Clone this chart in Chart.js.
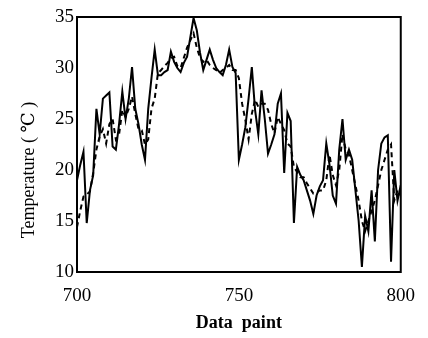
<!DOCTYPE html>
<html>
<head>
<meta charset="utf-8">
<script src="https://cdn.jsdelivr.net/npm/chart.js@4"></script>
<style>
html,body{margin:0;padding:0;background:#fff;}
#wrap{width:428px;height:338px;}
</style>
</head>
<body>
<div id="wrap"><canvas id="c" width="428" height="338"></canvas></div>
<script>
const dataPoints = [700,701,702,703,704,705,706,707,708,709,710,711,712,713,714,715,716,717,718,719,720,721,722,723,724,725,726,727,728,729,730,731,732,733,734,735,736,737,738,739,740,741,742,743,744,745,746,747,748,749,750,751,752,753,754,755,756,757,758,759,760,761,762,763,764,765,766,767,768,769,770,771,772,773,774,775,776,777,778,779,780,781,782,783,784,785,786,787,788,789,790,791,792,793,794,795,796,797,798,799,800];
const measured = [19.0,20.5,21.8,14.8,18.0,19.5,26.0,23.5,27.0,27.3,27.6,22.3,22.0,24.5,27.7,25.0,27.0,30.1,26.0,24.5,22.5,21.0,26.0,29.0,31.8,29.3,29.3,29.6,29.8,31.6,30.6,30.0,29.6,30.5,31.1,33.0,34.9,33.7,31.5,29.8,30.8,31.8,30.8,30.0,29.6,29.3,30.3,31.8,30.1,29.5,21.0,22.5,24.2,27.0,30.1,25.9,23.5,27.8,25.0,21.6,22.5,23.5,26.5,27.5,19.7,25.6,24.8,14.8,20.3,19.5,19.0,18.0,17.0,15.7,17.5,18.4,19.0,22.6,20.5,17.5,16.7,22.0,25.0,21.0,22.0,21.0,18.0,15.0,10.5,15.5,14.0,18.0,13.0,20.0,22.6,23.2,23.4,11.0,20.0,17.0,18.5];
const predicted = [14.4,16.0,17.4,17.6,17.9,19.7,22.0,23.3,24.0,22.6,24.5,25.0,23.0,23.5,25.9,25.2,26.0,27.2,25.5,24.0,23.9,22.5,23.0,26.0,27.0,29.5,29.8,30.2,30.5,31.0,31.1,30.2,30.0,31.0,32.0,32.7,33.4,32.0,31.0,30.6,30.8,30.3,30.0,29.8,29.5,29.8,30.0,30.3,29.8,29.8,29.0,26.5,24.9,23.0,25.5,26.9,26.2,26.5,26.5,25.9,24.5,23.6,25.2,24.5,23.9,22.6,22.3,20.3,19.8,19.3,19.3,18.7,18.2,17.7,17.8,18.0,18.0,19.0,21.5,19.5,18.5,20.0,23.5,22.0,21.5,20.0,18.5,17.0,15.0,14.0,15.0,16.0,17.0,18.5,20.0,21.0,22.0,22.5,17.0,18.0,17.5];
const xTicks = [700,750,800];
const yTicks = [10,15,20,25,30,35];
const xTitle = 'Data  paint';
const yTitle = 'Temperature ( ℃ )';

const serif = "'Liberation Serif','DejaVu Serif',serif";

const framePlugin = {
  id: 'frame',
  afterDraw(chart) {
    const {ctx, chartArea: a} = chart;
    ctx.save();
    ctx.strokeStyle = '#000';
    ctx.lineWidth = 2;
    ctx.strokeRect(a.left, a.top, a.right - a.left, a.bottom - a.top);
    ctx.fillStyle = '#000';
    ctx.textAlign = 'center';
    ctx.textBaseline = 'middle';
    ctx.font = "bold 18px " + serif;
    ctx.fillText(xTitle, (a.left + a.right) / 2, 323);
    ctx.translate(29, 170);
    ctx.rotate(-Math.PI / 2);
    ctx.font = "18px " + serif;
    ctx.fillText(yTitle, 0, 0);
    ctx.restore();
  }
};

new Chart(document.getElementById('c'), {
  type: 'line',
  data: {
    datasets: [
      {
        label: 'measured',
        data: dataPoints.map((x, i) => ({x, y: measured[i]})),
        borderColor: '#000', borderWidth: 2, pointRadius: 0, tension: 0, fill: false
      },
      {
        label: 'predicted',
        data: dataPoints.map((x, i) => ({x, y: predicted[i]})),
        borderColor: '#000', borderWidth: 2, borderDash: [5, 4], pointRadius: 0, tension: 0, fill: false
      }
    ]
  },
  options: {
    responsive: false,
    animation: false,
    devicePixelRatio: 1,
    layout: {padding: {top: 17, right: 22, left: 0, bottom: 0}},
    plugins: {legend: {display: false}, tooltip: {enabled: false}},
    scales: {
      x: {
        type: 'linear', min: 700, max: 800,
        afterBuildTicks: s => { s.ticks = xTicks.map(v => ({value: v})); },
        afterFit: s => { s.height = 66; },
        grid: {display: false, drawTicks: false},
        border: {display: false},
        ticks: {color: '#000', font: {family: serif, size: 19}, padding: 13, maxRotation: 0}
      },
      y: {
        type: 'linear', min: 10, max: 35,
        afterBuildTicks: s => { s.ticks = yTicks.map(v => ({value: v})); },
        afterFit: s => { s.width = 77; },
        grid: {display: false, drawTicks: false},
        border: {display: false},
        ticks: {color: '#000', font: {family: serif, size: 19}, padding: 3}
      }
    }
  },
  plugins: [framePlugin]
});
</script>
</body>
</html>
